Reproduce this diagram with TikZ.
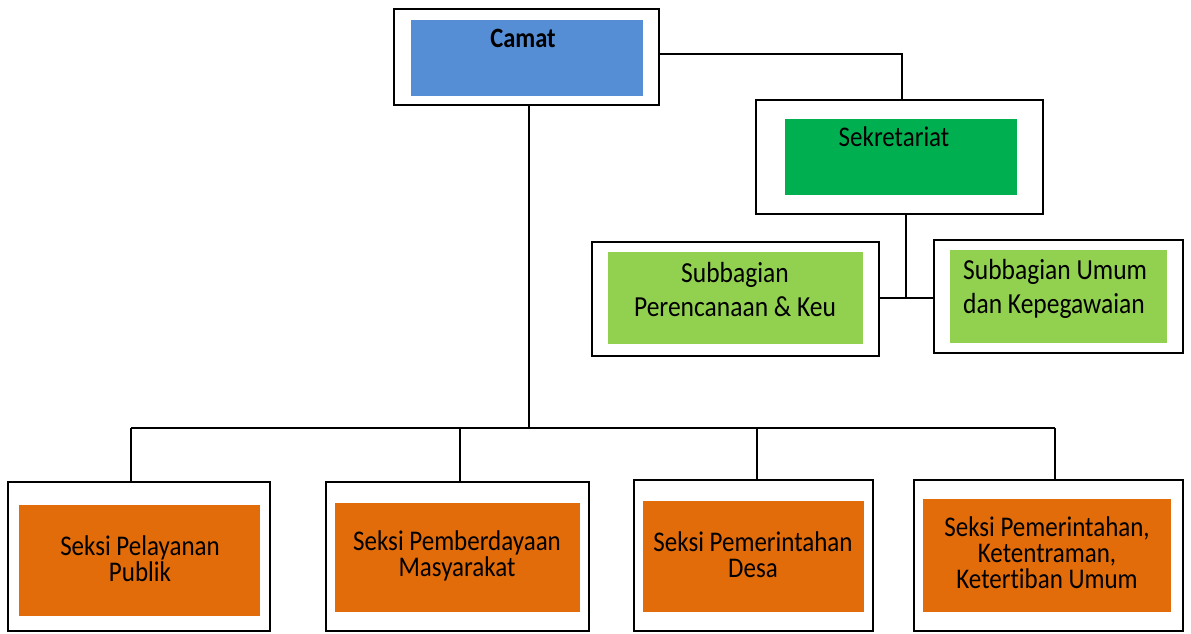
\documentclass[tikz,border=0pt]{standalone}
\usepackage{fontspec}
\setmainfont{Carlito}[Ligatures=NoCommon]
\usepackage{graphicx}
\definecolor{cblue}{HTML}{558ED5}
\definecolor{cgreen}{HTML}{00B050}
\definecolor{clgreen}{HTML}{92D050}
\definecolor{corange}{HTML}{E26B0A}
\newcommand{\st}[1]{\scalebox{1}[1.14]{#1}}
\tikzset{
  outerbox/.style={draw=black, line width=2.2pt, fill=white, inner sep=0pt},
  innerbox/.style={draw=none, inner sep=0pt},
  lbl/.style={inner sep=0pt, font=\fontsize{25}{26}\selectfont, text=black},
  sublbl/.style={inner sep=0pt, font=\fontsize{25.5}{34}\selectfont, text=black},
  conn/.style={draw=black, line width=1.8pt}
}
\begin{document}
\begin{tikzpicture}[x=1pt,y=1pt]
\useasboundingbox (0,0) rectangle (1191,-633);
% outer boxes
\node[outerbox, minimum width=265, minimum height=96] (camat) at (526.5,-57) {};
\node[outerbox, minimum width=287, minimum height=114] (sek) at (899.5,-157) {};
\node[outerbox, minimum width=287, minimum height=114] (subL) at (735.5,-299) {};
\node[outerbox, minimum width=249, minimum height=113] (subR) at (1058.5,-296.5) {};
\node[outerbox, minimum width=262, minimum height=149] (s1) at (139,-556.5) {};
\node[outerbox, minimum width=263, minimum height=149] (s2) at (457.5,-556.5) {};
\node[outerbox, minimum width=239, minimum height=151] (s3) at (753.5,-555.5) {};
\node[outerbox, minimum width=269, minimum height=151] (s4) at (1048.5,-555.5) {};
% inner boxes
\node[innerbox, fill=cblue, minimum width=232, minimum height=76] (camatI) at (527,-58) {};
\node[innerbox, fill=cgreen, minimum width=232, minimum height=76] (sekI) at (901,-157) {};
\node[innerbox, fill=clgreen, minimum width=255, minimum height=92] (subLI) at (735.5,-298) {};
\node[innerbox, fill=clgreen, minimum width=217, minimum height=93] (subRI) at (1058.5,-296.5) {};
\node[innerbox, fill=corange, minimum width=241, minimum height=111] (s1I) at (139.5,-560.5) {};
\node[innerbox, fill=corange, minimum width=245, minimum height=109] (s2I) at (457.5,-557.5) {};
\node[innerbox, fill=corange, minimum width=221, minimum height=111] (s3I) at (753.5,-556.5) {};
\node[innerbox, fill=corange, minimum width=248, minimum height=113] (s4I) at (1047,-555.5) {};
% labels
\node[lbl, font=\fontsize{24.5}{26}\selectfont\bfseries] (tcamat) at (523,-38) {\st{Camat}};
\node[lbl] (tsek) at (894,-137) {\st{Sekretariat}};
\node[sublbl, align=center] (tsubL) at (735,-290) {\st{Subbagian}\\\st{Perencanaan \& Keu}};
\node[sublbl, align=left, anchor=west] (tsubR) at (963,-289) {\st{Subbagian Umum}\\\st{dan Kepegawaian}};
\node[lbl, align=center] (ts1) at (140,-559) {\st{Seksi Pelayanan}\\\st{Publik}};
\node[lbl, align=center] (ts2) at (457,-556) {\st{Seksi Pemberdayaan}\\\st{Masyarakat}};
\node[lbl, align=center] (ts3) at (753,-555) {\st{Seksi Pemerintahan}\\\st{Desa}};
\node[lbl, align=center] (ts4) at (1047,-553) {\st{Seksi Pemerintahan,}\\\st{Ketentraman,}\\\st{Ketertiban Umum}};
% connectors
\coordinate (jsub) at (906,-298);
\coordinate (bus) at (529,-428);
\coordinate (b1) at (131,-428);
\coordinate (b2) at (460,-428);
\coordinate (b3) at (757,-428);
\coordinate (b4) at (1055,-428);
\draw[conn] (camat.east |- 0,-54) -| (sek.north -| 902,0);
\draw[conn] (sek.south -| jsub) -- (jsub);
\draw[conn] (subL.east |- jsub) -- (subR.west |- jsub);
\draw[conn] (camat.south -| bus) -- (bus);
\draw[conn] (b1) -- (b4);
\draw[conn] (b1) -- (b1 |- s1.north);
\draw[conn] (b2) -- (b2 |- s2.north);
\draw[conn] (b3) -- (b3 |- s3.north);
\draw[conn] (b4) -- (b4 |- s4.north);
\end{tikzpicture}
\end{document}
